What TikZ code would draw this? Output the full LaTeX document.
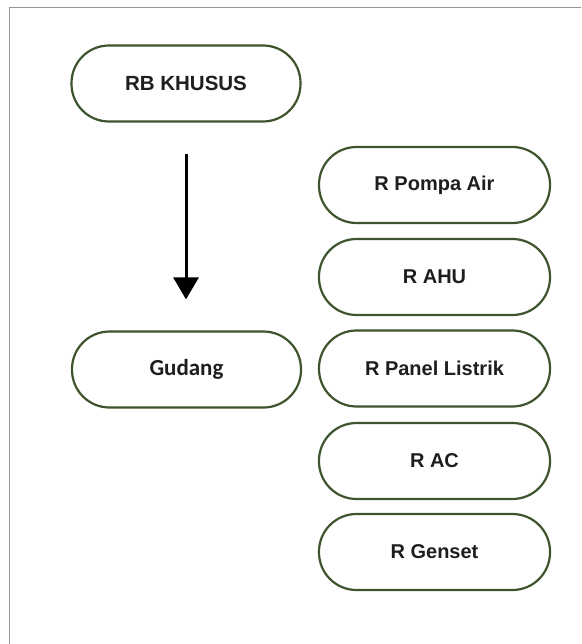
\documentclass[tikz,border=0pt]{standalone}
\usepackage{fontspec}
\setmainfont{Liberation Sans}
\newfontfamily\gudangfont{Carlito}
\usetikzlibrary{arrows.meta}
\definecolor{roomline}{RGB}{62,84,44}
\definecolor{roomtext}{RGB}{30,30,30}
\definecolor{framegray}{RGB}{150,150,150}
\tikzset{
  room/.style={draw=roomline, line width=2.2pt, fill=white,
    rounded corners=37.5pt, minimum width=229pt, minimum height=76pt,
    inner sep=0pt, text=roomtext, font=\fontsize{20}{24}\selectfont\bfseries},
  flow/.style={line width=3pt, -{Triangle[width=25pt,length=22pt]}}
}
\begin{document}
\begin{tikzpicture}[x=1pt,y=-1pt]
  \useasboundingbox (0,0) rectangle (581,644);
  \fill[white] (0,0) rectangle (581,644);
  % page frame: top and left edges only
  \draw[framegray, line width=1.6pt] (9.5,644) -- (9.5,7.5) -- (581,7.5);

  % left column
  \node[room, font=\fontsize{20.5}{24}\selectfont\bfseries] (rb) at (186,83.5) {RB KHUSUS};
  \node[room, font=\gudangfont\fontsize{23}{27}\selectfont\bfseries] (gudang) at (186.5,369.5) {Gudang};

  % right column
  \node[room, minimum width=231pt] (pompa)  at (434.5,185)   {R Pompa Air};
  \node[room, minimum width=231pt] (ahu)    at (434.5,277)   {R AHU};
  \node[room, minimum width=231pt] (panel)  at (434.5,368.5) {R Panel Listrik};
  \node[room, minimum width=231pt] (ac)     at (434.5,461)   {R AC};
  \node[room, minimum width=231pt] (genset) at (434.5,552)   {R Genset};

  % flow from RB KHUSUS to Gudang
  \draw[flow, shorten <=31pt, shorten >=31pt] (rb.south) -- (gudang.north -| rb.south);
\end{tikzpicture}
\end{document}
